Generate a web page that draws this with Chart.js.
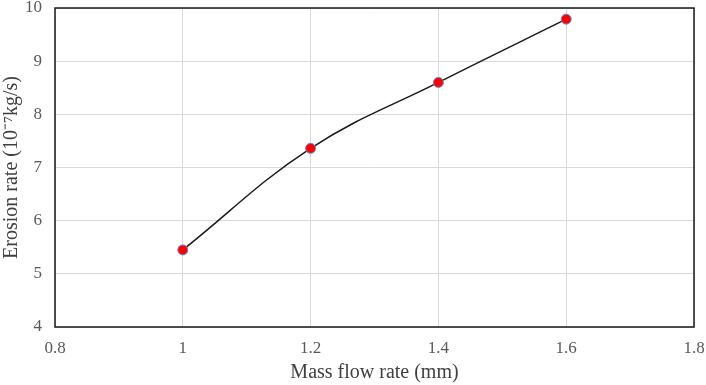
<!DOCTYPE html>
<html>
<head>
<meta charset="utf-8">
<script src="https://cdn.jsdelivr.net/npm/chart.js@4"></script>
<style>
  html, body { margin: 0; padding: 0; background: #fff; }
  #wrap { width: 706px; height: 385px; }
</style>
</head>
<body>
<div id="wrap"><canvas id="bieuDo"></canvas></div>
<script>
// du lieu doc tu hinh
const massFlow = [1, 1.2, 1.4, 1.6];
const erosionRate = [5.45, 7.36, 8.6, 9.79];
const xTicks = [0.8, 1, 1.2, 1.4, 1.6, 1.8];
const yTicks = [4, 5, 6, 7, 8, 9, 10];

// khung den quanh vung ve
const khung = {
    id: 'khung',
    afterDraw(chart) {
        const a = chart.chartArea;
        const c = chart.ctx;
        c.save();
        c.strokeStyle = '#1a1a1a';
        c.lineWidth = 1.5;
        c.strokeRect(a.left, a.top, a.right - a.left, a.bottom - a.top);
        c.restore();
    }
};

const ctx = document.getElementById('bieuDo').getContext('2d');
new Chart(ctx, {
    type: 'scatter',
    data: {
        datasets: [{
            data: massFlow.map((x, i) => ({ x: x, y: erosionRate[i] })),
            showLine: true,
            borderColor: '#1a1a1a',
            borderWidth: 1.5,
            tension: 0.4,
            pointRadius: 5,
            pointBackgroundColor: '#ff0000',
            pointBorderColor: '#5b8fd6',
            pointBorderWidth: 1
        }]
    },
    options: {
        responsive: true,
        maintainAspectRatio: false,
        animation: false,
        layout: { padding: { top: 8, right: 12, left: 0, bottom: 0 } },
        plugins: { legend: { display: false }, tooltip: { enabled: false } },
        scales: {
            x: {
                type: 'linear',
                min: 0.8,
                max: 1.8,
                afterBuildTicks: s => { s.ticks = xTicks.map(v => ({ value: v })); },
                afterFit: s => { s.height = 58; s.paddingRight = 0; s.paddingLeft = 0; },
                grid: { color: '#d9d9d9', drawTicks: false },
                border: { display: false },
                ticks: {
                    color: '#595959',
                    padding: 11,
                    font: { family: 'Liberation Serif', size: 17 },
                    callback: v => String(v)
                },
                title: {
                    display: true,
                    text: 'Mass flow rate (mm)',
                    color: '#404040',
                    padding: { top: 0, bottom: 0 },
                    font: { family: 'Liberation Serif', size: 20 }
                }
            },
            y: {
                min: 4,
                max: 10,
                afterBuildTicks: s => { s.ticks = yTicks.map(v => ({ value: v })); },
                afterFit: s => { s.width = 55; s.paddingTop = 0; s.paddingBottom = 0; },
                grid: { color: '#d9d9d9', drawTicks: false },
                border: { display: false },
                ticks: {
                    color: '#595959',
                    padding: 13,
                    font: { family: 'Liberation Serif', size: 17 }
                },
                title: {
                    display: true,
                    text: 'Erosion rate (10⁻⁷kg/s)',
                    color: '#404040',
                    padding: { top: 0, bottom: 0 },
                    font: { family: 'Liberation Serif', size: 20 }
                }
            }
        }
    },
    plugins: [khung]
});
</script>
</body>
</html>
